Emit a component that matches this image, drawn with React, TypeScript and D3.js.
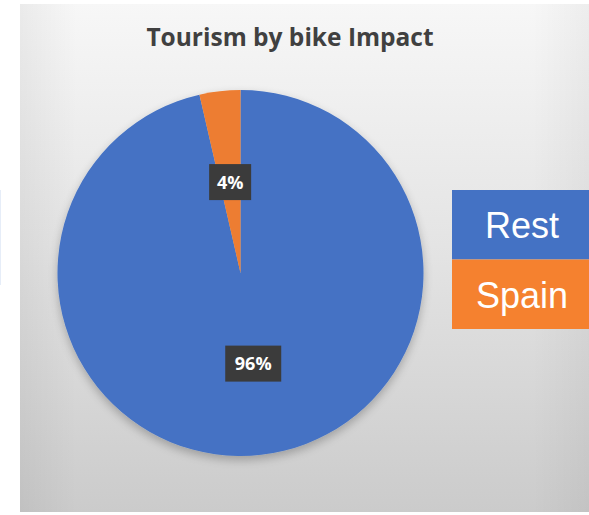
import React from "react";
import * as d3 from "d3";

const categories = ["Rest", "Spain"];
const values = [96.4, 3.6];
const colors = ["#4472C4", "#ED7D31"];
const legendColors = ["#4472C4", "#F5812F"];
const labelAngles = [172, -6.5]; // degrees from 12 o'clock, label placement
const title = "Tourism by bike Impact";

export default function App() {
  const W = 589, H = 515;
  const cx = 240.5, cy = 273, R = 183;
  const total = d3.sum(values);
  const spainAngle = (2 * Math.PI * values[1]) / total;
  // Rest starts at 12 o'clock clockwise; Spain finishes back at 12 o'clock
  const arcsData = d3.pie<number>().sort(null).startAngle(0).endAngle(2 * Math.PI)(values);
  const arc = d3.arc<d3.PieArcDatum<number>>().innerRadius(0).outerRadius(R);
  return (
    <svg width={W} height={H} style={{ position: "absolute", left: 0, top: 0 }}>
      <defs>
        <linearGradient id="bg" x1="0" y1="0" x2="0" y2="1">
          <stop offset="0" stopColor="#f7f7f7" />
          <stop offset="0.5" stopColor="#e3e3e3" />
          <stop offset="1" stopColor="#cbcbcb" />
        </linearGradient>
        <linearGradient id="bgh" x1="0" y1="0" x2="1" y2="0">
          <stop offset="0" stopColor="#000" stopOpacity="0.05" />
          <stop offset="0.1" stopColor="#000" stopOpacity="0" />
          <stop offset="0.9" stopColor="#000" stopOpacity="0" />
          <stop offset="1" stopColor="#000" stopOpacity="0.04" />
        </linearGradient>
        <filter id="shadow" x="-20%" y="-20%" width="140%" height="140%">
          <feGaussianBlur in="SourceAlpha" stdDeviation="5" />
          <feOffset dx="0" dy="4" result="b" />
          <feComponentTransfer><feFuncA type="linear" slope="0.25" /></feComponentTransfer>
          <feMerge><feMergeNode /><feMergeNode in="SourceGraphic" /></feMerge>
        </filter>
      </defs>
      <rect x={0} y={0} width={W} height={H} fill="#ffffff" />
      <line x1={0.5} y1={190} x2={0.5} y2={285} stroke="#e6edf8" strokeWidth={1} />
      <rect x={20} y={4} width={W - 20} height={508} fill="url(#bg)" />
      <rect x={20} y={4} width={W - 20} height={508} fill="url(#bgh)" />
      <text x={290} y={46} textAnchor="middle" fontFamily="Open Sans, Lato, sans-serif" fontWeight="bold" fontSize={24.5} fill="#404040">{title}</text>
      <g transform={`translate(${cx},${cy})`} filter="url(#shadow)">
        {arcsData.map((d, i) => {
          const dd = i === 0 ? d : { ...d, startAngle: -spainAngle, endAngle: 0 };
          return <path key={categories[i]} d={arc(dd) || ""} fill={colors[i]} />;
        })}
      </g>
      <g transform={`translate(${cx},${cy})`}>
        {values.map((v, i) => {
          const a = (labelAngles[i] * Math.PI) / 180;
          const r = R * 0.5;
          const x = Math.sin(a) * r;
          const y = -Math.cos(a) * r;
          const txt = `${Math.round((v / total) * 100)}%`;
          const bw = txt.length * 14 + 14;
          const bh = 36;
          return (
            <g key={categories[i]} transform={`translate(${x},${y})`}>
              <rect x={-bw / 2} y={-bh / 2} width={bw} height={bh} fill="#3b3b3b" />
              <text x={0} y={6.5} textAnchor="middle" fontFamily="Open Sans, Lato, sans-serif" fontWeight="bold" fontSize={18} fill="#ffffff">{txt}</text>
            </g>
          );
        })}
      </g>
      <g>
        {categories.map((c, i) => (
          <g key={c} transform={`translate(452,${190 + i * 69.5})`}>
            <rect x={0} y={0} width={W - 452} height={69.5} fill={legendColors[i]} />
            <text x={70} y={48} textAnchor="middle" fontFamily="Liberation Sans, Arial, sans-serif" fontSize={36} fill="#ffffff">{c}</text>
          </g>
        ))}
      </g>
    </svg>
  );
}
